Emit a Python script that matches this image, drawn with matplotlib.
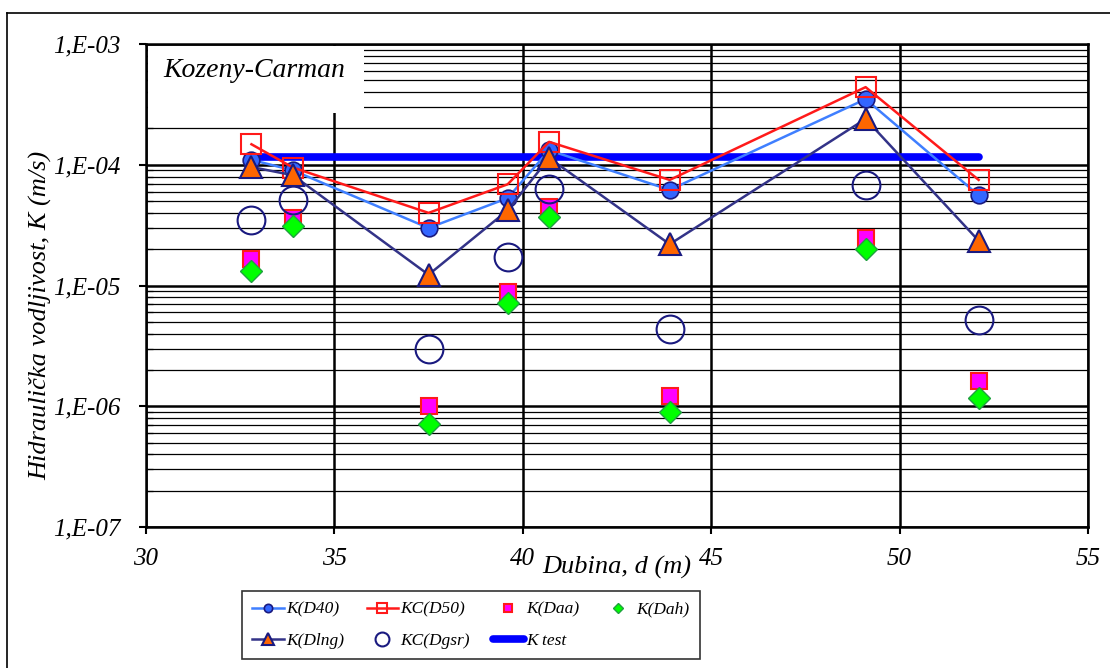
import matplotlib
matplotlib.use("Agg")
import matplotlib.pyplot as plt
import numpy as np
from matplotlib.patches import Rectangle
from matplotlib.lines import Line2D
from matplotlib.ticker import LogLocator, FuncFormatter, NullFormatter

# --- data ---
depth = [32.8, 33.9, 37.5, 39.6, 40.7, 43.9, 49.1, 52.1]
k_d40 = [1.10e-4, 9.0e-5, 3.0e-5, 5.3e-5, 1.32e-4, 6.2e-5, 3.5e-4, 5.6e-5]
kc_d50 = [1.48e-4, 9.5e-5, 4.0e-5, 6.9e-5, 1.55e-4, 7.5e-5, 4.4e-4, 7.5e-5]
k_daa = [1.66e-5, 3.6e-5, 1.0e-6, 8.9e-6, 4.45e-5, 1.22e-6, 2.5e-5, 1.62e-6]
k_dah = [1.32e-5, 3.1e-5, 7.1e-7, 7.2e-6, 3.7e-5, 8.9e-7, 2.0e-5, 1.17e-6]
k_dlng = [9.6e-5, 8.2e-5, 1.23e-5, 4.2e-5, 1.14e-4, 2.2e-5, 2.4e-4, 2.35e-5]
kc_dgsr = [3.5e-5, 5.1e-5, 3.0e-6, 1.72e-5, 6.3e-5, 4.4e-6, 6.8e-5, 5.2e-6]
k_test = 1.16e-4
x_ticks = [30, 35, 40, 45, 50, 55]

plt.rcParams['font.family'] = ['Liberation Serif', 'DejaVu Serif']
plt.rcParams['font.style'] = 'italic'

fig = plt.figure(figsize=(11.1, 6.68), dpi=100)
ax = fig.add_axes([0.1315, 0.211, 0.8486, 0.723])

# outer frame (only top and left are visible in the reference)
fig.add_artist(Line2D([0.0063, 1.0], [0.9805, 0.9805], color='black', lw=1.2))
fig.add_artist(Line2D([0.0063, 0.0063], [0.0, 0.9805], color='black', lw=1.2))

ax.set_yscale('log')
ax.set_ylim(1e-7, 1e-3)
ax.set_xlim(30, 55)
ax.set_xticks(x_ticks)

ax.yaxis.set_major_locator(LogLocator(base=10, numticks=10))
ax.yaxis.set_minor_locator(LogLocator(base=10, subs=np.arange(2, 10), numticks=50))
ax.yaxis.set_minor_formatter(NullFormatter())
ax.yaxis.set_major_formatter(FuncFormatter(lambda v, p: "1,E-%02d" % round(-np.log10(v))))

ax.grid(axis='y', which='major', color='black', lw=1.8)
ax.grid(axis='y', which='minor', color='black', lw=0.9)
ax.grid(axis='x', which='major', color='black', lw=1.8)
ax.set_axisbelow(True)

for s in ax.spines.values():
    s.set_linewidth(1.8)
ax.tick_params(axis='both', which='major', direction='out', length=5, width=1.5,
               labelsize=18)
ax.tick_params(axis='y', which='major', pad=13)
ax.tick_params(axis='y', which='minor', direction='in', length=5, width=0.9)
ax.tick_params(axis='x', which='major', pad=10)
for lbl in ax.get_xticklabels() + ax.get_yticklabels():
    lbl.set_fontstyle('italic')

ax.set_ylabel("Hidraulička vodljivost, K (m/s)", fontsize=19, fontstyle='italic')
ax.yaxis.set_label_coords(-0.099, 0.439)
ax.set_xlabel("Dubina, d (m)", fontsize=19, fontstyle='italic')
ax.xaxis.set_label_coords(0.5, -0.083)
ax.xaxis.label.set_va('center')

# white label box over the grid
ax.add_patch(Rectangle((0.002, 0.857), 0.23, 0.14, transform=ax.transAxes,
                       facecolor='white', edgecolor='none', zorder=1.5))
ax.text(0.018, 0.946, "Kozeny-Carman", transform=ax.transAxes, fontsize=20,
        fontstyle='italic', va='center', ha='left', zorder=2)

navy = '#1a1a80'
l_test, = ax.plot([depth[0], depth[-1]], [k_test, k_test], color='#0000ff', lw=5.5,
                  solid_capstyle='round', zorder=3, label='K test')
l_d40, = ax.plot(depth, k_d40, color='#3f7fff', lw=1.8, marker='o', ms=12,
                 mfc='#3366ff', mec=navy, mew=1.2, zorder=4, label='K(D40)')
l_d50, = ax.plot(depth, kc_d50, color='#ff1a1a', lw=1.8, marker='s', ms=14,
                 mfc='none', mec='#ff1a1a', mew=1.5, zorder=4, label='KC(D50)')
l_daa, = ax.plot(depth, k_daa, ls='none', marker='s', ms=12,
                 mfc='#ff00ff', mec='#ff1a1a', mew=1.5, zorder=4, label='K(Daa)')
l_dah, = ax.plot(depth, k_dah, ls='none', marker='D', ms=11,
                 mfc='#00ff00', mec='#20a040', mew=1.0, zorder=5, label='K(Dah)')
l_dlng, = ax.plot(depth, k_dlng, color='#333388', lw=1.8, marker='^', ms=16,
                  mfc='#ff6600', mec=navy, mew=1.5, zorder=4, label='K(Dlng)')
l_dgsr, = ax.plot(depth, kc_dgsr, ls='none', marker='o', ms=20,
                  mfc='none', mec=navy, mew=1.5, zorder=4, label='KC(Dgsr)')

handles = [l_d40, l_dlng, l_d50, l_dgsr, l_daa, l_test, l_dah]
leg = fig.legend(handles=handles, labels=[h.get_label() for h in handles], ncol=4,
                 loc='upper left', bbox_to_anchor=(0.218, 0.115), borderaxespad=0,
                 fontsize=12.5, frameon=True, fancybox=False, edgecolor='black',
                 markerscale=0.5, handlelength=1.8, columnspacing=1.3,
                 handletextpad=0.15, borderpad=0.6, labelspacing=0.85)
leg.get_frame().set_linewidth(1.2)
for t in leg.get_texts():
    t.set_fontstyle('italic')

fig.savefig("out.png", dpi=100)
